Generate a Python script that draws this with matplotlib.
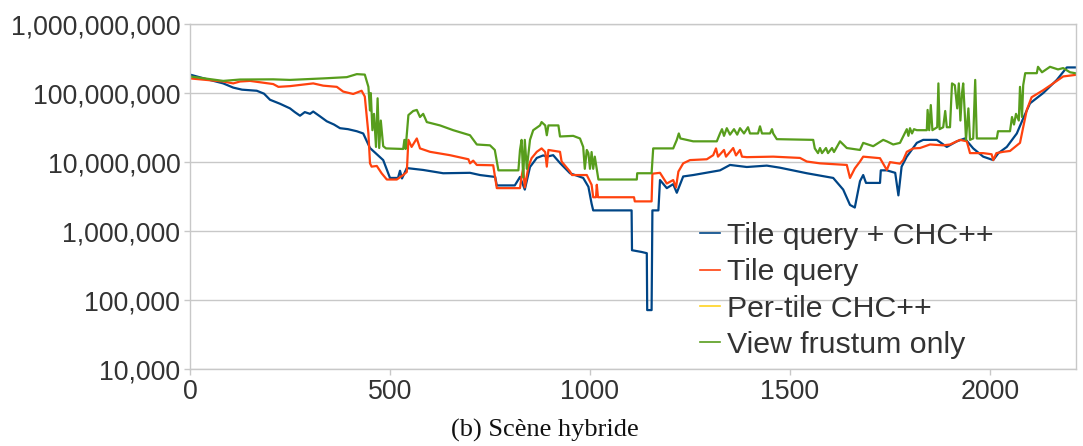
import matplotlib
matplotlib.use("Agg")
import matplotlib.pyplot as plt
from matplotlib.ticker import FuncFormatter, FixedLocator, NullLocator
from matplotlib.lines import Line2D

# Frame index / visible-object count for each culling strategy
tile_chc_frames = [0, 40, 83, 108, 130, 167, 185, 200, 225, 250, 262, 275, 287, 300, 308, 325, 342, 360, 375, 395, 417,
                   433, 450, 483, 500, 520, 525, 530,
                   542, 583, 633, 700, 725, 763, 767, 812, 825, 837, 850, 867, 883, 892, 908, 925, 950, 983, 996, 1004,
                   1008, 1104, 1105, 1129, 1142, 1143, 1154, 1156, 1171, 1175, 1192, 1208, 1217, 1233, 1258, 1325, 1350,
                   1392, 1442, 1475, 1542, 1608, 1633, 1650, 1662, 1675, 1683, 1690, 1725, 1727, 1742, 1763, 1771, 1779,
                   1792, 1817, 1833, 1867, 1892, 1917, 1937, 1958, 1983, 2008, 2021, 2042, 2067, 2083, 2100, 2133, 2167,
                   2192, 2213]
tile_chc_values = [1.85e8, 1.6e8, 1.38e8, 1.2e8, 1.12e8, 1.08e8, 9.8e7, 8.0e7, 7.0e7, 6.0e7, 5.3e7, 4.7e7, 5.3e7,
                   5.0e7, 5.4e7, 4.6e7, 3.9e7, 3.5e7, 3.1e7, 3.0e7, 2.8e7, 2.6e7,
                   1.6e7, 1.07e7, 5.9e6, 5.9e6, 7.5e6, 5.8e6, 8.2e6, 7.7e6, 6.9e6, 7.0e6, 6.5e6, 6.1e6, 4.6e6, 4.6e6,
                   6.1e6, 4.0e6, 8.5e6, 1.15e7, 1.25e7, 1.2e7, 1.26e7, 9.7e6, 6.9e6, 5.9e6, 4.4e6, 2.5e6, 2.0e6, 2.0e6,
                   5.3e5, 5.0e5, 4.8e5, 7.2e4, 7.2e4, 2.0e6, 2.0e6, 5.5e6, 4.2e6, 4.8e6, 3.6e6, 6.2e6, 6.5e6, 7.6e6,
                   9.1e6, 8.5e6, 8.9e6, 8.3e6, 6.9e6, 5.9e6, 4.0e6, 2.4e6, 2.2e6, 5.3e6, 6.5e6, 5.0e6, 5.0e6, 7.6e6,
                   7.6e6, 7.0e6, 3.3e6, 8.6e6, 1.2e7, 1.9e7, 2.1e7, 2.1e7, 1.66e7, 2.0e7, 2.2e7, 1.58e7, 1.2e7, 1.07e7,
                   1.35e7, 1.66e7, 2.6e7, 4.3e7, 7.1e7, 1.0e8, 1.55e8, 2.35e8, 2.35e8]

tile_frames = [0, 83, 108, 125, 150, 208, 221, 250, 308, 333, 367, 383, 408, 429, 437, 446, 450, 454, 467, 479, 492,
               517, 533, 542, 546, 554, 567, 575, 600, 650, 696, 700, 708, 717, 758, 767, 825, 829, 833, 837, 846, 854,
               867, 879, 888, 892, 896, 925, 929, 950, 955, 992, 1004, 1008, 1015, 1017, 1020, 1110, 1112, 1154, 1156,
               1175, 1192, 1208, 1215, 1221, 1233, 1250, 1292, 1308, 1315, 1320, 1335, 1340, 1358, 1365, 1375, 1380,
               1392, 1458, 1525, 1542, 1575, 1642, 1650, 1662, 1675, 1683, 1725, 1742, 1750, 1775, 1783, 1792, 1808,
               1825, 1850, 1883, 1900, 1925, 1942, 1950, 1983, 2004, 2008, 2016, 2033, 2050, 2075, 2083, 2092, 2104,
               2133, 2158, 2183, 2213]
tile_values = [1.63e8, 1.47e8, 1.38e8, 1.47e8, 1.5e8, 1.35e8, 1.23e8, 1.26e8, 1.38e8, 1.28e8, 1.23e8, 1.05e8, 9.7e7,
               1.08e8, 8.9e7, 2.6e7, 9.6e6, 8.6e6, 8.8e6, 6.9e6, 5.6e6, 5.6e6, 6.5e6, 7.2e6, 2.1e7, 1.66e7, 2.2e7,
               1.58e7, 1.41e7, 1.26e7, 1.1e7, 9.6e6, 1.05e7, 9.1e6, 9.0e6, 4.2e6, 4.2e6, 6.2e6, 8.1e6, 4.3e6, 8.6e6,
               1.14e7, 1.41e7, 1.58e7, 1.4e7, 8.6e6, 1.5e7, 1.41e7, 1.02e7, 7.3e6, 6.5e6, 6.5e6, 4.7e6, 3.1e6, 3.1e6,
               4.7e6, 3.1e6, 3.1e6, 2.7e6, 2.7e6, 6.8e6, 7.0e6, 4.9e6, 5.5e6, 4.3e6, 7.3e6, 9.6e6, 1.07e7, 1.1e7,
               1.26e7, 1.58e7, 1.2e7, 1.5e7, 1.2e7, 1.6e7, 1.25e7, 1.5e7, 1.2e7, 1.18e7, 1.2e7, 1.15e7, 1.02e7, 9.6e6,
               9.1e6, 5.9e6, 8.1e6, 1.02e7, 1.2e7, 1.14e7, 7.7e6, 1.0e7, 9.5e6, 1.07e7, 1.41e7, 1.58e7, 1.6e7, 1.8e7,
               1.75e7, 1.8e7, 2.1e7, 2.0e7, 1.35e7, 1.35e7, 1.3e7, 1.07e7, 1.35e7, 1.41e7, 1.45e7, 1.9e7, 3.2e7,
               5.7e7, 8.7e7, 1.1e8, 1.38e8, 1.74e8, 1.83e8]

per_tile_chc_frames = []
per_tile_chc_values = []

frustum_frames = [0, 83, 125, 208, 250, 333, 392, 417, 437, 446, 450, 452, 456, 460, 465, 469, 473, 477, 483, 490, 533,
                  536, 539, 546, 558, 567, 575, 583, 592, 625, 658, 700, 717, 750, 762, 771, 821, 825, 829, 833, 837,
                  842, 850, 858, 875, 879, 888, 892, 896, 921, 925, 958, 975, 983, 987, 992, 996, 1000, 1004, 1008,
                  1012, 1021, 1117, 1118, 1154, 1158, 1208, 1217, 1222, 1226, 1258, 1317, 1325, 1330, 1335, 1342,
                  1350, 1360, 1368, 1375, 1385, 1395, 1400, 1420, 1425, 1430, 1450, 1455, 1458, 1467, 1558, 1562,
                  1570, 1575, 1580, 1590, 1595, 1605, 1610, 1625, 1642, 1675, 1683, 1708, 1733, 1742, 1758, 1775,
                  1783, 1792, 1796, 1800, 1805, 1810, 1817, 1842, 1844, 1848, 1852, 1856, 1868, 1871, 1874, 1883,
                  1888, 1892, 1900, 1905, 1912, 1918, 1922, 1926, 1930, 1933, 1937, 1940, 1946, 1950, 1958, 1963,
                  1967, 2017, 2020, 2050, 2055, 2060, 2065, 2072, 2075, 2080, 2083, 2088, 2117, 2120, 2130, 2150,
                  2170, 2183, 2200, 2213]
frustum_values = [1.74e8, 1.5e8, 1.57e8, 1.58e8, 1.55e8, 1.63e8, 1.7e8, 1.88e8, 1.85e8, 1.23e8, 5.6e7, 1.0e8, 2.9e7,
                  5.0e7, 1.66e7, 8.4e7, 1.6e7, 4.0e7, 1.7e7, 1.58e7, 1.55e7, 2.1e7, 1.55e7, 4.8e7, 5.5e7, 5.7e7,
                  4.5e7, 5.0e7, 3.8e7, 3.4e7, 2.9e7, 2.45e7, 1.8e7, 1.75e7, 1.5e7, 7.6e6, 7.6e6, 1.5e7, 2.1e7, 6.0e6,
                  2.1e7, 8.0e6, 2.1e7, 2.9e7, 3.4e7, 3.8e7, 3.4e7, 2.45e7, 3.4e7, 3.4e7, 2.35e7, 2.4e7, 2.2e7, 1.66e7,
                  8.0e6, 1.5e7, 1.35e7, 8.0e6, 1.4e7, 8.0e6, 1.2e7, 5.6e6, 5.6e6, 6.9e6, 6.9e6, 1.58e7, 1.58e7, 2.1e7,
                  2.6e7, 2.2e7, 2.0e7, 2.0e7, 2.6e7, 3.0e7, 2.4e7, 3.1e7, 2.5e7, 3.0e7, 2.5e7, 3.1e7, 2.6e7, 3.2e7,
                  2.6e7, 2.6e7, 3.3e7, 2.6e7, 2.6e7, 3.0e7, 2.6e7, 2.15e7, 2.1e7, 1.58e7, 1.35e7, 1.6e7, 1.35e7,
                  1.6e7, 1.35e7, 1.6e7, 1.4e7, 2.0e7, 1.6e7, 1.5e7, 1.9e7, 1.7e7, 2.1e7, 2.0e7, 1.8e7, 1.9e7, 2.35e7,
                  3.0e7, 2.4e7, 3.1e7, 2.6e7, 3.0e7, 2.9e7, 2.9e7, 5.7e7, 2.9e7, 6.7e7, 2.9e7, 3.2e7, 1.38e8, 3.0e7,
                  3.2e7, 5.5e7, 3.2e7, 3.2e7, 1.38e8, 1.3e8, 6.0e7, 1.38e8, 4.0e7, 1.0e8, 1.38e8, 5.0e7, 2.1e7,
                  6.0e7, 2.1e7, 2.2e7, 1.55e8, 2.2e7, 2.2e7, 2.8e7, 2.8e7, 4.5e7, 3.5e7, 5.0e7, 4.0e7, 1.23e8, 4.5e7,
                  1.3e8, 1.94e8, 1.94e8, 2.4e8, 2.0e8, 2.4e8, 2.2e8, 2.3e8, 2.0e8, 1.94e8]

series_labels = ["Tile query + CHC++", "Tile query", "Per-tile CHC++", "View frustum only"]
series_colors = ["#004586", "#ff420e", "#ffd320", "#579d1c"]
x_ticks = [0, 500, 1000, 1500, 2000]
y_ticks = [1e4, 1e5, 1e6, 1e7, 1e8, 1e9]
caption = "(b) Scène hybride"

plt.rcParams["font.family"] = ["Liberation Sans", "DejaVu Sans"]

fig = plt.figure(figsize=(10.83, 4.46), dpi=100)
ax = fig.add_axes([190 / 1083, 1 - 369.3 / 446, (1076 - 190) / 1083, (369.3 - 24) / 446])

series = [(tile_chc_frames, tile_chc_values), (tile_frames, tile_values),
          (per_tile_chc_frames, per_tile_chc_values), (frustum_frames, frustum_values)]
for (xs, ys), color, label in zip(series, series_colors, series_labels):
    ax.plot(xs, ys, color=color, lw=1.6, label=label, solid_joinstyle="round")

ax.set_yscale("log")
ax.set_ylim(1e4, 1e9)
ax.set_xlim(0, 2215)
ax.yaxis.set_major_locator(FixedLocator(y_ticks))
ax.yaxis.set_minor_locator(NullLocator())
ax.yaxis.set_major_formatter(FuncFormatter(lambda v, _: f"{v:,.0f}"))
ax.xaxis.set_major_locator(FixedLocator(x_ticks))

grid_color = "#c8c8c8"
ax.grid(axis="y", color=grid_color, lw=1.0)
ax.set_axisbelow(True)
for side in ["left", "bottom", "right", "top"]:
    ax.spines[side].set_color(grid_color)
    ax.spines[side].set_linewidth(1.0)
ax.tick_params(axis="both", colors=grid_color, labelcolor="#333333", labelsize=19.3,
               length=4, width=1.0, direction="out")
ax.tick_params(axis="y", pad=3)
ax.tick_params(axis="x", pad=3)

handles = [Line2D([], [], color=c, lw=1.2) for c in series_colors]
fig.legend(handles, series_labels, loc="upper left", bbox_to_anchor=(700 / 1083, 1 - 222 / 446),
           frameon=False, fontsize=21.8, handlelength=0.65, handletextpad=0.25,
           labelspacing=0.275, borderpad=0, borderaxespad=0, labelcolor="#333333")

fig.text(545 / 1083, 1 - 430 / 446, caption, ha="center", va="center",
         fontsize=19, family=["Liberation Serif", "DejaVu Serif"], color="#111111")

fig.savefig("out.png", dpi=100)
